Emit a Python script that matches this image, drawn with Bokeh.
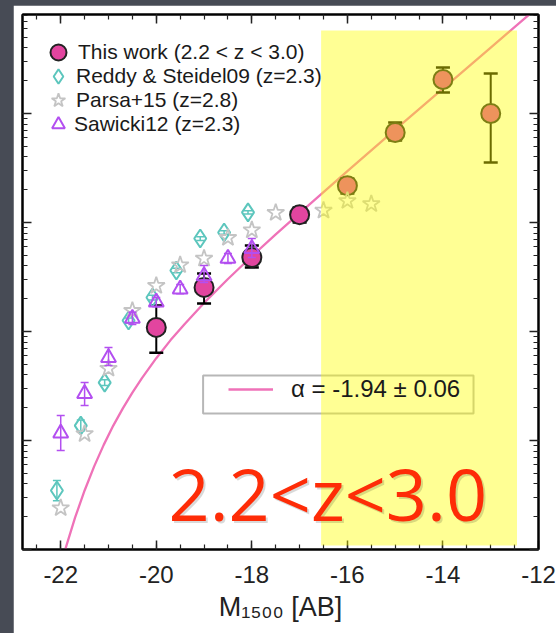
from bokeh.plotting import figure
from bokeh.models import (Range1d, LogAxis, LinearAxis, LogTicker, SingleIntervalTicker,
                          CustomJSTickFormatter, Legend, LegendItem, BoxAnnotation, Label)
from bokeh.layouts import column
from bokeh.embed import file_html
from bokeh.resources import INLINE

# ---------------- data ----------------
# This work (2.2 < z < 3.0)
tw_mag = [-20.0, -19.0, -18.0, -17.0, -16.0, -15.0, -14.0, -13.0]
tw_phi = [1.09e-3, 2.54e-3, 4.78e-3, 1.18e-2, 2.18e-2, 6.7e-2, 0.205, 0.100]
tw_hi = [1.73e-3, 3.4e-3, 6.15e-3, 1.37e-2, 2.54e-2, 8.26e-2, 0.264, 0.233]
tw_lo = [6.4e-4, 1.81e-3, 3.87e-3, 1.0e-2, 1.85e-2, 5.65e-2, 0.156, 0.0355]

# Reddy & Steidel 2009 (z=2.3)
rs_mag = [-22.08, -21.58, -21.08, -20.58, -20.08, -19.58, -19.08, -18.58, -18.08]
rs_phi = [3.48e-5, 1.37e-4, 3.40e-4, 1.26e-3, 2.05e-3, 3.63e-3, 7.13e-3, 8.09e-3, 1.24e-2]
rs_hi = [4.3e-5, 1.54e-4, 3.6e-4, 1.33e-3, 2.15e-3, 3.8e-3, 7.4e-3, 8.4e-3, 1.28e-2]
rs_lo = [2.8e-5, 1.22e-4, 3.2e-4, 1.19e-3, 1.95e-3, 3.46e-3, 6.85e-3, 7.8e-3, 1.2e-2]

# Parsa+15 (z=2.8)
ps_mag = [-22.0, -21.5, -21.0, -20.5, -20.0, -19.5, -19.0, -18.5, -18.0, -17.5, -16.5, -16.0, -15.5]
ps_phi = [2.40e-5, 1.15e-4, 4.57e-4, 1.55e-3, 2.63e-3, 4.07e-3, 4.68e-3, 7.24e-3, 8.51e-3,
          1.23e-2, 1.29e-2, 1.58e-2, 1.48e-2]

# Sawicki 2012 (z=2.3)
sw_mag = [-22.0, -21.5, -21.0, -20.5, -20.0, -19.5, -19.0, -18.5, -18.0]
sw_phi = [1.17e-4, 2.69e-4, 5.75e-4, 1.32e-3, 1.86e-3, 2.45e-3, 3.24e-3, 4.68e-3, 5.75e-3]
sw_hi = [1.70e-4, 3.40e-4, 7.13e-4, 1.50e-3, 2.05e-3, 2.70e-3, 4.04e-3, 5.2e-3, 7.13e-3]
sw_lo = [8.1e-5, 2.09e-4, 4.88e-4, 1.16e-3, 1.69e-3, 2.22e-3, 2.82e-3, 4.2e-3, 4.78e-3]

# Schechter fit (alpha = -1.94)
fit_mag = [-21.9, -21.7, -21.5, -21.3, -21.1, -20.9, -20.7, -20.5, -20.3, -20.0, -19.7,
           -19.4, -19.0, -18.5, -18.0, -17.5, -17.0, -16.0, -15.0, -14.0, -13.0, -12.19]
fit_phi = [1.02e-5, 1.96e-5, 3.48e-5, 5.79e-5, 9.12e-5, 1.37e-4, 1.97e-4, 2.75e-4, 3.74e-4,
           5.69e-4, 8.34e-4, 1.18e-3, 1.83e-3, 3.03e-3, 4.90e-3, 7.78e-3, 1.22e-2, 2.96e-2,
           7.10e-2, 0.169, 0.403, 0.813]

x_ticks_interval = 2
legend_labels = ["This work (2.2 < z < 3.0)", "Reddy & Steidel09 (z=2.3)",
                 "Parsa+15 (z=2.8)", "Sawicki12 (z=2.3)"]
fit_label = "α = -1.94 ± 0.06"
panel_title = "2.2<z<3.0"
x_title = "M₁₅₀₀ [AB]"

# ---------------- styles ----------------
PINK = "#e2459f"
LINE_PINK = "#ef72b8"
TEAL = "#5cc6bd"
GREY = "#c4c4c4"
VIOLET = "#b34ff0"
FONT = "Liberation Sans"

p = figure(width=543, height=628, x_range=Range1d(-22.8, -12), y_range=Range1d(1e-5, 0.81),
           y_axis_type="log", output_backend="svg", toolbar_location=None,
           min_border_left=9, min_border_right=18, min_border_top=9, min_border_bottom=84,
           background_fill_color="white", border_fill_color="white",
           outline_line_color="black", outline_line_width=2)
p.margin = (5, 0, 0, 13)
p.xgrid.visible = False
p.ygrid.visible = False

empty = CustomJSTickFormatter(code="return ''")


def style_axis(ax, labels):
    ax.major_tick_in = 9
    ax.major_tick_out = 0
    ax.minor_tick_in = 5
    ax.minor_tick_out = 0
    ax.major_tick_line_width = 1.5
    ax.minor_tick_line_width = 1.2
    ax.axis_line_width = 2
    ax.axis_line_color = "black"
    ax.major_tick_line_color = "#222222"
    ax.minor_tick_line_color = "#222222"
    if not labels:
        ax.formatter = empty
        ax.major_label_standoff = 0
        ax.major_label_text_font_size = "0px"


xa = p.xaxis[0]
xa.ticker = SingleIntervalTicker(interval=x_ticks_interval, num_minor_ticks=4)
xa.formatter = CustomJSTickFormatter(code="return tick.toFixed(0)")
style_axis(xa, True)
xa.major_label_text_font = FONT
xa.major_label_text_font_size = "24px"
xa.major_label_text_color = "#222222"
xa.major_label_standoff = 16
xa.axis_label = x_title
xa.axis_label_text_font = FONT
xa.axis_label_text_font_size = "27px"
xa.axis_label_text_font_style = "normal"
xa.axis_label_text_color = "#222222"
xa.axis_label_standoff = 6

ya = p.yaxis[0]
ya.ticker = LogTicker(num_minor_ticks=10, desired_num_ticks=6)
style_axis(ya, False)

top = LinearAxis(ticker=SingleIntervalTicker(interval=x_ticks_interval, num_minor_ticks=4))
style_axis(top, False)
p.add_layout(top, "above")
right = LogAxis(ticker=LogTicker(num_minor_ticks=10, desired_num_ticks=6))
style_axis(right, False)
p.add_layout(right, "right")

# ---------------- glyphs ----------------
fit_r = p.line(fit_mag, fit_phi, line_color=LINE_PINK, line_width=2.3)

p.segment(x0=tw_mag, y0=tw_lo, x1=tw_mag, y1=tw_hi, line_color="black", line_width=2)
p.scatter(tw_mag, tw_hi, marker="dash", size=14, line_color="black", line_width=2.5)
p.scatter(tw_mag, tw_lo, marker="dash", size=14, line_color="black", line_width=2.5)
tw_r = p.scatter(tw_mag, tw_phi, marker="circle", size=19, fill_color=PINK,
                 line_color="#222222", line_width=2)

p.segment(x0=rs_mag, y0=rs_lo, x1=rs_mag, y1=rs_hi, line_color=TEAL, line_width=1.5)
p.scatter(rs_mag, rs_hi, marker="dash", size=8, line_color=TEAL, line_width=1.5)
p.scatter(rs_mag, rs_lo, marker="dash", size=8, line_color=TEAL, line_width=1.5)
rs_r = p.scatter(rs_mag, rs_phi, marker="diamond", size=18, fill_color=None,
                 line_color=TEAL, line_width=2)

ps_r = p.scatter(ps_mag, ps_phi, marker="star", size=18, fill_color=None,
                 line_color=GREY, line_width=1.8)

p.segment(x0=sw_mag, y0=sw_lo, x1=sw_mag, y1=sw_hi, line_color=VIOLET, line_width=1.5)
p.scatter(sw_mag, sw_hi, marker="dash", size=8, line_color=VIOLET, line_width=1.5)
p.scatter(sw_mag, sw_lo, marker="dash", size=8, line_color=VIOLET, line_width=1.5)
sw_r = p.scatter(sw_mag, sw_phi, marker="triangle", size=15, fill_color=None,
                 line_color=VIOLET, line_width=2)

# ---------------- legends (one per row) ----------------
key_renderers = [tw_r, rs_r, ps_r, sw_r]
key_boxes = [40, 36, 36, 32]        # legend key box sizes (px)
row_centres = [52, 76, 100, 124]    # row centres, px from the top of the page
for lab, rend, g, c in zip(legend_labels, key_renderers, key_boxes, row_centres):
    lg = Legend(items=[LegendItem(label=lab, renderers=[rend])],
                location=(36 - g / 2, 549 - c - g / 2), padding=0, margin=0,
                label_standoff=int(14 - g / 2), glyph_width=g, glyph_height=g,
                label_height=20, border_line_color=None, background_fill_alpha=0,
                label_text_font=FONT, label_text_font_size="21px",
                label_text_color="#1a1a1a")
    p.add_layout(lg)

box2 = BoxAnnotation(left=-19.02, right=-13.36, bottom=1.77e-4, top=3.94e-4,
                     fill_color="white", fill_alpha=1, line_color="#111111", line_width=2)
p.add_layout(box2)
leg2 = Legend(items=[LegendItem(label=fit_label, renderers=[fit_r])],
              location=(206, 146), padding=0, margin=0, label_standoff=18,
              glyph_width=45, glyph_height=20, label_height=20,
              border_line_color=None, background_fill_alpha=0,
              label_text_font=FONT, label_text_font_size="24px", label_text_color="#1a1a1a")
p.add_layout(leg2)

yellow = BoxAnnotation(left=-16.55, right=-12.45, bottom=1.09e-5, top=0.577,
                       fill_color="#ffff00", fill_alpha=0.42, line_color=None,
                       level="overlay")
p.add_layout(yellow)

# ---------------- texts ----------------
shadow = Label(x=148, y=6, x_units="screen", y_units="screen", text=panel_title,
               text_font="Open Sans", text_font_size="72px", text_color="black",
               text_alpha=0.15, level="overlay")
p.add_layout(shadow)
title = Label(x=146, y=8, x_units="screen", y_units="screen", text=panel_title,
              text_font="Open Sans", text_font_size="72px", text_color="#fe2c07",
              level="overlay")
p.add_layout(title)

layout = column(p, styles={"background-color": "#474b55"})
open("out.html", "w").write(file_html(layout, INLINE))
